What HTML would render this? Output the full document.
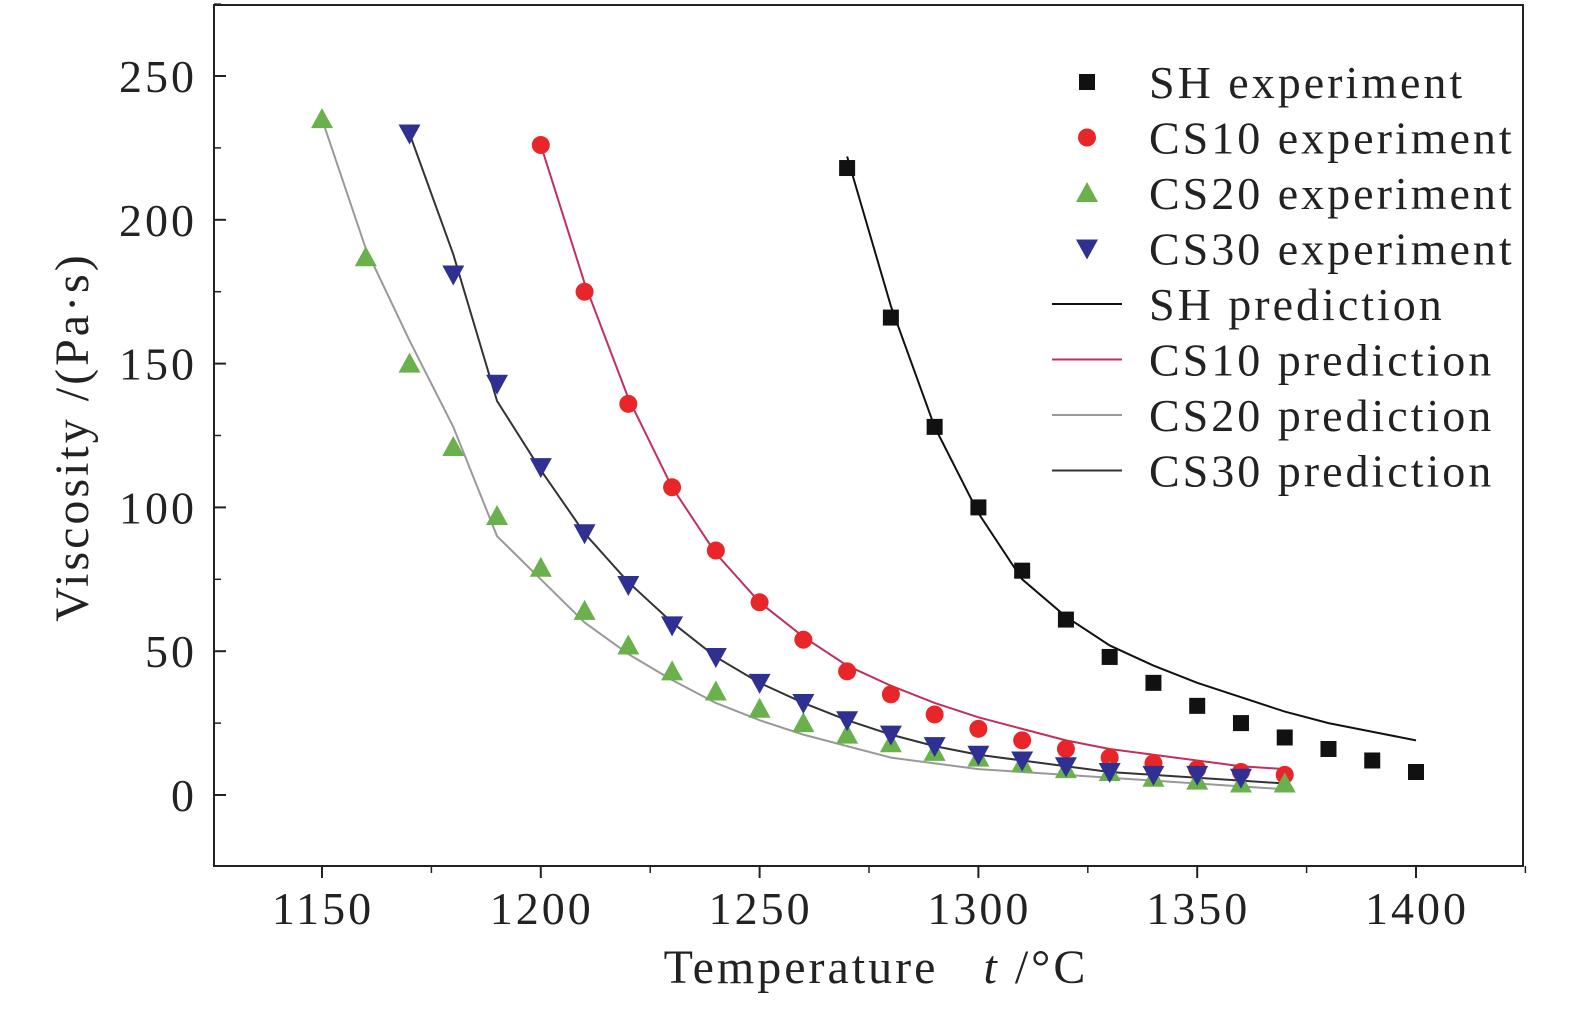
<!DOCTYPE html>
<html><head><meta charset="utf-8"><style>
html,body{margin:0;padding:0;background:#fff}
svg text{font-family:"Liberation Serif",serif;fill:#222;letter-spacing:3px}
</style></head><body>
<svg id="c" width="1575" height="1006" viewBox="0 0 1575 1006" xmlns="http://www.w3.org/2000/svg"></svg>
<script>
const xTicks=[1150,1200,1250,1300,1350,1400];
const yTicks=[0,50,100,150,200,250];
const shT=[1270,1280,1290,1300,1310,1320,1330,1340,1350,1360,1370,1380,1390,1400];
const shExp=[218,166,128,100,78,61,48,39,31,25,20,16,12,8];
const shPred=[222,170,128,98,75,62,52,45,39,34,29,25,22,19];
const cs10T=[1200,1210,1220,1230,1240,1250,1260,1270,1280,1290,1300,1310,1320,1330,1340,1350,1360,1370];
const cs10Exp=[226,175,136,107,85,67,54,43,35,28,23,19,16,13,11,9,8,7];
const cs10Pred=[226,178,138,107,84,67,55,45,38,32,27,23,19,16,14,12,10,9];
const cs20T=[1150,1160,1170,1180,1190,1200,1210,1220,1230,1240,1250,1260,1270,1280,1290,1300,1310,1320,1330,1340,1350,1360,1370];
const cs20Exp=[235,187,150,121,97,79,64,52,43,36,30,25,21,18,15,13,11,9,8,6,5,4,4];
const cs20Pred=[235,190,158,128,90,75,60,49,40,32,26,21,17,13,11,9,8,7,6,5,4,3,2];
const cs30T=[1170,1180,1190,1200,1210,1220,1230,1240,1250,1260,1270,1280,1290,1300,1310,1320,1330,1340,1350,1360];
const cs30Exp=[230,181,143,114,91,73,59,48,39,32,26,21,17,14,12,10,8,7,7,6];
const cs30PredT=[1170,1180,1190,1200,1210,1220,1230,1240,1250,1260,1270,1280,1290,1300,1310,1320,1330,1340,1350,1360,1370];
const cs30Pred=[230,188,137,113,91,74,60,48,39,32,26,21,17,14,12,10,8,7,6,5,4];

const svg=document.getElementById('c');
const NS='http://www.w3.org/2000/svg';
const L=214,R=1523,T=5,B=866;
const X=v=>322+(v-1150)*(1416-322)/250;
const Y=v=>795-v*(795-76)/250;
function mk(tag,at,parent){const e=document.createElementNS(NS,tag);for(const k in at)e.setAttribute(k,at[k]);(parent||svg).appendChild(e);return e;}

const frame=mk('rect',{x:L,y:T,width:R-L,height:B-T,fill:'none',stroke:'#222','stroke-width':2});



xTicks.forEach(v=>{
  const t=mk('line',{x1:X(v),x2:X(v),y1:B,y2:B+12,stroke:'#222','stroke-width':2});
  
  
  const m=mk('line',{x1:X(v+25),x2:X(v+25),y1:B,y2:B+7,stroke:'#222','stroke-width':1.5});
  
  
  const tx=mk('text',{x:X(v)+1,y:924,'text-anchor':'middle','font-size':46});
  tx.textContent=v;
  
  
});
yTicks.forEach(v=>{
  const t=mk('line',{x1:L,x2:L+12,y1:Y(v),y2:Y(v),stroke:'#222','stroke-width':2});
  
  
  const m=mk('line',{x1:L,x2:L+7,y1:Y(v+25),y2:Y(v+25),stroke:'#222','stroke-width':1.5});
  
  
  const tx=mk('text',{x:197,y:Y(v)+16,'text-anchor':'end','font-size':46});
  tx.textContent=v;
  
  
});
const xt=mk('text',{x:876,y:983,'text-anchor':'middle','font-size':48});
xt.innerHTML='Temperature&#160;&#160;&#160;<tspan font-style="italic">t</tspan> /°C';


const yt=mk('text',{x:0,y:0,'text-anchor':'middle','font-size':48,transform:'translate(88,437) rotate(-90)'});
yt.textContent='Viscosity /(Pa·s)';



function line(ts,vs,color,name){
  const p=mk('polyline',{points:ts.map((t,i)=>X(t)+','+Y(vs[i])).join(' '),fill:'none',stroke:color,'stroke-width':2});
  
  
}
function marker(shape,cx,cy,color,parent){
  let e;
  if(shape==='sq')e=mk('rect',{x:cx-8,y:cy-8,width:16,height:16,fill:color},parent);
  else if(shape==='ci')e=mk('circle',{cx:cx,cy:cy,r:9,fill:color},parent);
  else if(shape==='up')e=mk('polygon',{points:`${cx},${cy-11} ${cx-11},${cy+9} ${cx+11},${cy+9}`,fill:color},parent);
  else e=mk('polygon',{points:`${cx},${cy+11} ${cx-11},${cy-9} ${cx+11},${cy-9}`,fill:color},parent);
  return e;
}
function scatter(ts,vs,shape,color,name){
  const g=mk('g',{});
  
  
  ts.forEach((t,i)=>{const m=marker(shape,X(t),Y(vs[i]),color,g);
    
    });
}
line(cs20T,cs20Pred,'#999','cs20-prediction-line');
line(cs30PredT,cs30Pred,'#333','cs30-prediction-line');
line(cs10T,cs10Pred,'#c0305a','cs10-prediction-line');
line(shT,shPred,'#111','sh-prediction-line');
scatter(shT,shExp,'sq','#111','sh-experiment');
scatter(cs10T,cs10Exp,'ci','#e8262a','cs10-experiment');
scatter(cs20T,cs20Exp,'up','#6ab04c','cs20-experiment');
scatter(cs30T,cs30Exp,'dn','#2e3192','cs30-experiment');

const leg=[['sq','#111','SH experiment'],['ci','#e8262a','CS10 experiment'],['up','#6ab04c','CS20 experiment'],['dn','#2e3192','CS30 experiment'],
['ln','#111','SH prediction'],['ln','#c0305a','CS10 prediction'],['ln','#999','CS20 prediction'],['ln','#333','CS30 prediction']];
const lg=mk('g',{});


leg.forEach((d,i)=>{
  const y=82+i*55.5;
  const g=mk('g',{},lg);
  
  
  if(d[0]==='ln')mk('line',{x1:1052,x2:1122,y1:y,y2:y,stroke:d[1],'stroke-width':2},g);
  else marker(d[0],1087,y,d[1],g);
  const tx=mk('text',{x:1149,y:y+16,'font-size':46},g);
  tx.textContent=d[2];
});
</script>
</body></html>
